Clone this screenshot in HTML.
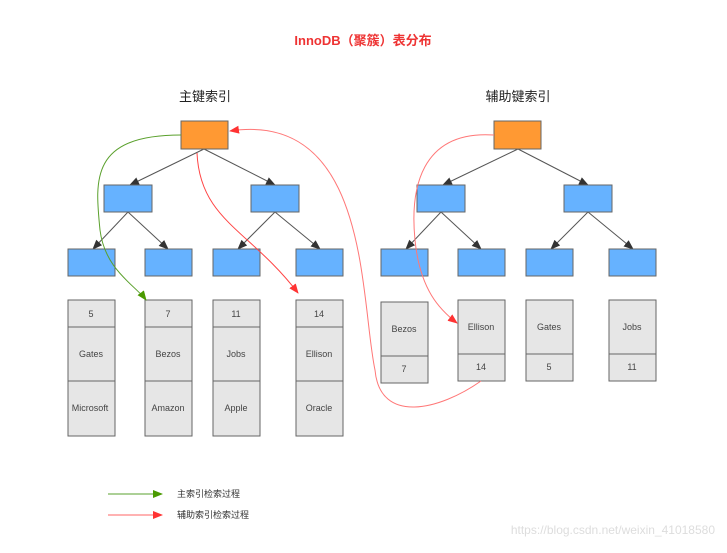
<!DOCTYPE html>
<html><head><meta charset="utf-8"><style>
body{margin:0;background:#fff;}
svg text{font-family:"Liberation Sans","Noto Sans CJK SC",sans-serif;}
</style></head><body>
<svg width="727" height="548" viewBox="0 0 727 548" xmlns="http://www.w3.org/2000/svg">
<defs>
<marker id="ak" markerWidth="10" markerHeight="8" refX="9" refY="4" orient="auto" markerUnits="userSpaceOnUse"><path d="M0,0 L10,4 L0,8 z" fill="#333"/></marker>
<marker id="ar" markerWidth="10" markerHeight="8" refX="9" refY="4" orient="auto" markerUnits="userSpaceOnUse"><path d="M0,0 L10,4 L0,8 z" fill="#f33"/></marker>
<marker id="ag" markerWidth="10" markerHeight="8" refX="9" refY="4" orient="auto" markerUnits="userSpaceOnUse"><path d="M0,0 L10,4 L0,8 z" fill="#4a9a00"/></marker>
</defs>
<text x="363" y="45" text-anchor="middle" font-size="13" font-weight="bold" fill="#e33">InnoDB（聚簇）表分布</text>
<text x="205" y="101" text-anchor="middle" font-size="13" fill="#222">主键索引</text>
<text x="518" y="101" text-anchor="middle" font-size="13" fill="#222">辅助键索引</text>
<g stroke="#555" stroke-width="1" marker-end="url(#ak)">
<line x1="204" y1="149" x2="130" y2="185"/><line x1="204" y1="149" x2="275" y2="185"/>
<line x1="128" y1="212" x2="93" y2="249"/><line x1="128" y1="212" x2="168" y2="249"/>
<line x1="275" y1="212" x2="238" y2="249"/><line x1="275" y1="212" x2="320" y2="249"/>
<line x1="518" y1="149" x2="443" y2="185"/><line x1="518" y1="149" x2="588" y2="185"/>
<line x1="441" y1="212" x2="406" y2="249"/><line x1="441" y1="212" x2="481" y2="249"/>
<line x1="588" y1="212" x2="551" y2="249"/><line x1="588" y1="212" x2="633" y2="249"/>
</g>
<g stroke="#666" stroke-width="1">
<rect x="181" y="121" width="47" height="28" fill="#ff9933"/>
<rect x="494" y="121" width="47" height="28" fill="#ff9933"/>
<g fill="#66b2ff">
<rect x="104" y="185" width="48" height="27"/><rect x="251" y="185" width="48" height="27"/>
<rect x="68" y="249" width="47" height="27"/><rect x="145" y="249" width="47" height="27"/>
<rect x="213" y="249" width="47" height="27"/><rect x="296" y="249" width="47" height="27"/>
<rect x="417" y="185" width="48" height="27"/><rect x="564" y="185" width="48" height="27"/>
<rect x="381" y="249" width="47" height="27"/><rect x="458" y="249" width="47" height="27"/>
<rect x="526" y="249" width="47" height="27"/><rect x="609" y="249" width="47" height="27"/>
</g>
<g fill="#e6e6e6">
<rect x="68" y="300" width="47" height="136"/><line x1="68" y1="327" x2="115" y2="327"/><line x1="68" y1="381" x2="115" y2="381"/>
<rect x="145" y="300" width="47" height="136"/><line x1="145" y1="327" x2="192" y2="327"/><line x1="145" y1="381" x2="192" y2="381"/>
<rect x="213" y="300" width="47" height="136"/><line x1="213" y1="327" x2="260" y2="327"/><line x1="213" y1="381" x2="260" y2="381"/>
<rect x="296" y="300" width="47" height="136"/><line x1="296" y1="327" x2="343" y2="327"/><line x1="296" y1="381" x2="343" y2="381"/>
<rect x="381" y="302" width="47" height="81"/><line x1="381" y1="356" x2="428" y2="356"/>
<rect x="458" y="300" width="47" height="81"/><line x1="458" y1="354" x2="505" y2="354"/>
<rect x="526" y="300" width="47" height="81"/><line x1="526" y1="354" x2="573" y2="354"/>
<rect x="609" y="300" width="47" height="81"/><line x1="609" y1="354" x2="656" y2="354"/>
</g>
</g>
<g font-size="9" fill="#444" text-anchor="middle">
<text x="91" y="317">5</text><text x="91" y="357">Gates</text><text x="90" y="411">Microsoft</text>
<text x="168" y="317">7</text><text x="168" y="357">Bezos</text><text x="168" y="411">Amazon</text>
<text x="236" y="317">11</text><text x="236" y="357">Jobs</text><text x="236" y="411">Apple</text>
<text x="319" y="317">14</text><text x="319" y="357">Ellison</text><text x="319" y="411">Oracle</text>
<text x="404" y="332">Bezos</text><text x="404" y="372">7</text>
<text x="481" y="330">Ellison</text><text x="481" y="370">14</text>
<text x="549" y="330">Gates</text><text x="549" y="370">5</text>
<text x="632" y="330">Jobs</text><text x="632" y="370">11</text>
</g>
<g fill="none" stroke-width="1">
<path d="M181,135 C90,135 95,180 100,230 C105,270 135,285 146,300" stroke="#5aa02c" marker-end="url(#ag)"/>
<path d="M197,153 C200,220 250,230 298,293" stroke="#f44" marker-end="url(#ar)"/>
<path d="M481,381 C440,410 380,425 375,370 C360,300 370,110 230,131" stroke="#f77" marker-end="url(#ar)"/>
<path d="M494,135 C420,130 410,190 415,240 C420,290 440,310 457,323" stroke="#f77" marker-end="url(#ar)"/>
<line x1="108" y1="494" x2="162" y2="494" stroke="#5aa02c" marker-end="url(#ag)"/>
<line x1="108" y1="515" x2="162" y2="515" stroke="#f66" marker-end="url(#ar)"/>
</g>
<text x="177" y="497" font-size="9" fill="#333">主索引检索过程</text>
<text x="177" y="518" font-size="9" fill="#333">辅助索引检索过程</text>
<text x="715" y="534" text-anchor="end" font-size="12" fill="#ddd">https://blog.csdn.net/weixin_41018580</text>
</svg>
</body></html>
